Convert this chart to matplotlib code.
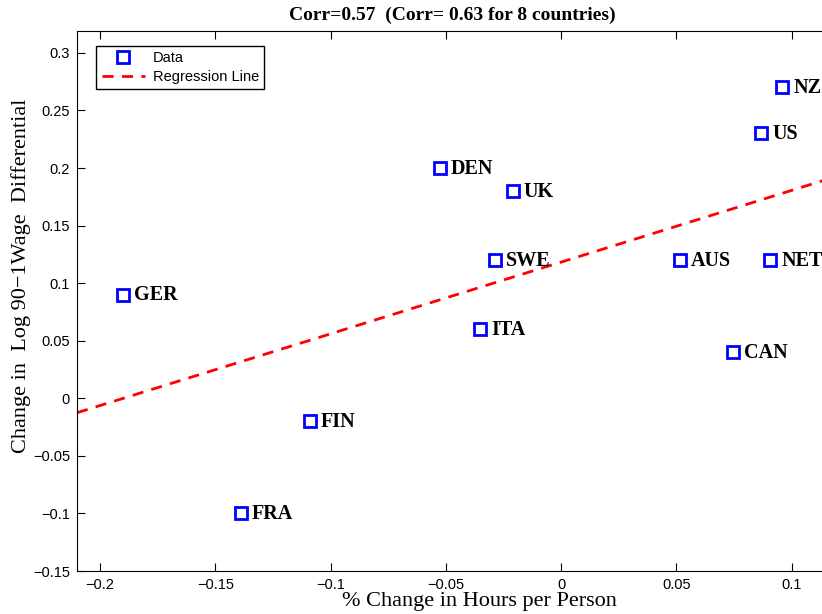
import numpy as np
import matplotlib
matplotlib.use("Agg")
import matplotlib.pyplot as plt

countries = ["GER", "FRA", "FIN", "DEN", "ITA", "SWE", "UK", "AUS", "CAN", "US", "NET", "NZ"]
hours_change = [-0.190, -0.139, -0.109, -0.0525, -0.035, -0.0286, -0.021, 0.0516, 0.0746, 0.0868, 0.0907, 0.0959]
wage_diff = [0.09, -0.10, -0.02, 0.20, 0.06, 0.12, 0.18, 0.12, 0.04, 0.23, 0.12, 0.27]

x = np.array(hours_change)
y = np.array(wage_diff)
slope, intercept = np.polyfit(x, y, 1)

fig = plt.figure(figsize=(8.22, 6.14), dpi=100)
# axes run past the right edge of the figure
ax = fig.add_axes([0.0937, 0.0700, 0.9253, 0.8795])

ax.plot(x, y, "s", mfc="none", mec="blue", mew=2.0, ms=8, label="Data", zorder=3)
xl = np.array([-0.21, 0.12])
ax.plot(xl, intercept + slope * xl, "--", color="red", lw=2, dashes=(4, 3), label="Regression Line")

for c, xi, yi in zip(countries, x, y):
    ax.annotate(c, (xi, yi), xytext=(8, -0.5), textcoords="offset points",
                ha="left", va="center", fontsize=14.5, fontweight="bold",
                family="Liberation Serif")

ax.set_xlim(-0.21, 0.12)
ax.set_ylim(-0.15, 0.319)
ax.set_xticks([-0.2, -0.15, -0.1, -0.05, 0, 0.05, 0.1])
ax.set_xticklabels(["\u22120.2", "\u22120.15", "\u22120.1", "\u22120.05", "0", "0.05", "0.1"])
ax.set_yticks([-0.15, -0.1, -0.05, 0, 0.05, 0.1, 0.15, 0.2, 0.25, 0.3])
ax.set_yticklabels(["\u22120.15", "\u22120.1", "\u22120.05", "0", "0.05", "0.1", "0.15", "0.2", "0.25", "0.3"])
ax.tick_params(direction="in", top=True, right=True, length=6, labelsize=10.5, pad=5)
for lab in ax.get_xticklabels() + ax.get_yticklabels():
    lab.set_family("Liberation Sans")

ax.set_xlabel("% Change in Hours per Person", family="Liberation Serif", fontsize=16)
ax.xaxis.set_label_coords(0.5285, -0.0565)
ax.xaxis.label.set_va("center")
ax.set_ylabel("Change in  Log 90\u22121Wage  Differential", family="Liberation Serif", fontsize=16)
ax.yaxis.set_label_coords(-0.0736, 0.546)
ax.yaxis.label.set_va("center")
ax.set_title("Corr=0.57  (Corr= 0.63 for 8 countries)", family="Liberation Serif",
             fontweight="bold", fontsize=14, pad=8, x=0.493)

leg = ax.legend(loc="upper left", bbox_to_anchor=(0.0255, 0.972),
                prop={"family": "Liberation Sans", "size": 10.5},
                fancybox=False, edgecolor="black", framealpha=1, handlelength=3.0,
                handletextpad=0.5, borderpad=0.35, labelspacing=0.35, borderaxespad=0)
leg.get_frame().set_linewidth(1)

fig.savefig("out.png", dpi=100)
